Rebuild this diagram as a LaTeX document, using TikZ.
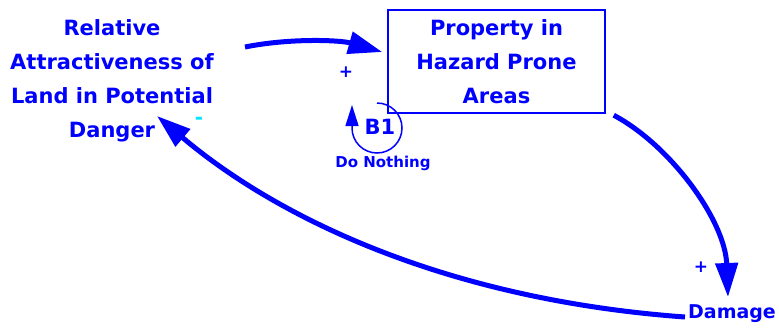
\documentclass[tikz,border=0pt]{standalone}
\usepackage{fontspec}
\setmainfont{DejaVu Sans}
\usetikzlibrary{arrows.meta,calc}
\definecolor{cldblue}{RGB}{0,0,255}
\definecolor{cldcyan}{RGB}{0,230,255}
\begin{document}
\begin{tikzpicture}[x=1pt,y=-1pt,
  lbl/.style={text=cldblue, font=\fontsize{21}{34}\selectfont\bfseries, align=center, inner sep=0pt},
  link/.style={draw=cldblue, line width=5pt, -{Triangle[length=34pt,width=22pt]}},
  pol/.style={text=cldblue, font=\fontsize{17}{18}\selectfont\bfseries, inner sep=0pt},
  stockbox/.style={draw=cldblue, line width=1.5pt, minimum width=217pt, minimum height=103pt}]
\useasboundingbox (0,0) rectangle (779,327);
\node[lbl] (rel) at (112,81) {Relative\\Attractiveness of\\Land in Potential\\Danger};
\node[lbl, stockbox] (box) at (496.5,61.5) {Property in\\Hazard Prone\\Areas};
\node[lbl, font=\fontsize{19}{24}\selectfont\bfseries] (dmg) at (732,314) {Damage};
\node[lbl] (b1) at (380,127) {B1};
\node[pol, font=\fontsize{15}{16}\selectfont\bfseries] (dn) at (383,163) {Do Nothing};
\node[pol] (p1) at (346,72) {+};
\node[pol] (p2) at (701,267) {+};
\node[pol, text=cldcyan, font=\fontsize{20}{20}\selectfont\bfseries] (m1) at (199,121) {-};
% links
\draw[link] ([shift={(133,-34)}]rel.center) .. controls (290,38) and (340,40) .. ([shift={(-5,-9.5)}]box.west);
\draw[link] ([shift={(8,1.5)}]box.south east) .. controls (670,145) and (725,220) .. ([shift={(-4,-17)}]dmg.center);
\draw[link] ([shift={(-47,3)}]dmg.center) .. controls (450,300) and (280,220) .. ([shift={(45,35)}]rel.center);
% loop
\draw[draw=cldblue, line width=1.5pt, -{Triangle[length=21pt,width=13pt]}] ([shift={(-3,-24)}]b1.center) arc[start angle=90, end angle=-180, radius=25pt] -- ++(0,-23);
\end{tikzpicture}
\end{document}
